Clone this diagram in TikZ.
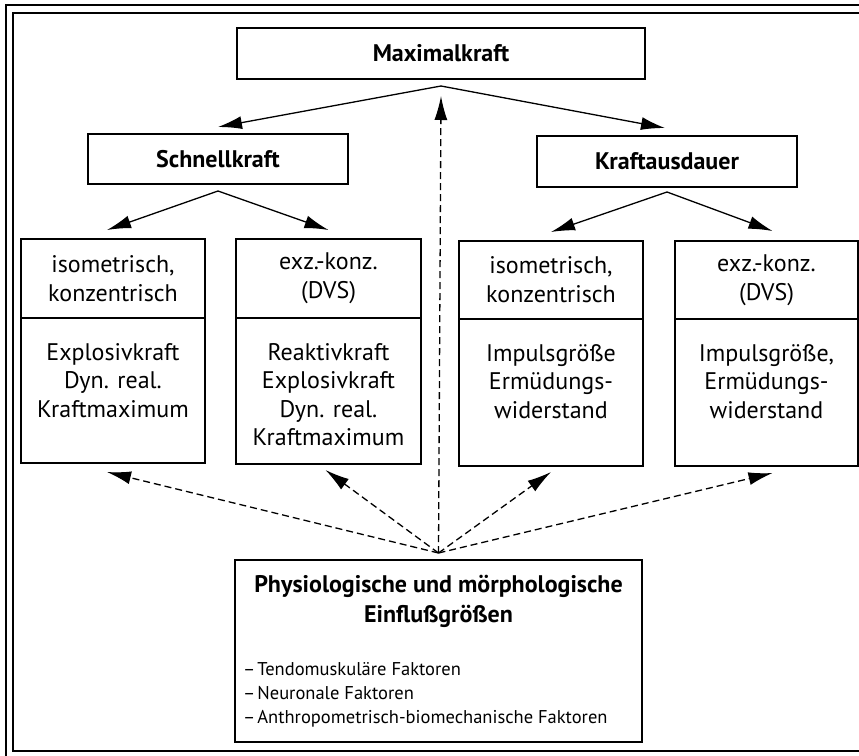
\documentclass[tikz,border=0pt]{standalone}
\usepackage{fontspec}
\setmainfont{PT Sans}
\usetikzlibrary{arrows.meta,positioning}

\tikzset{
  kbox/.style={rectangle, draw, line width=1.4pt, inner sep=0pt, outer sep=0pt},
  kopf/.style={font=\fontsize{24}{29}\selectfont, align=center},
  inhalt/.style={font=\fontsize{24}{28.5}\selectfont, align=center, inner sep=0pt},
  titel/.style={font=\fontsize{24}{30}\selectfont\bfseries},
  pfeil/.style={-{Latex[length=24pt,width=13pt]}, line width=1.3pt},
  strichpfeil/.style={pfeil, dash pattern=on 7pt off 4pt}
}

\begin{document}
\begin{tikzpicture}[x=1pt,y=-1pt]
      \clip (0,0) rectangle (859,755);
      % Rahmen
      \draw[line width=2.8pt] (6,5) rectangle (900,800);
      \draw[line width=1.2pt] (13,13) rectangle (880,751);

      \node at (441,53.5) [kbox, titel, minimum width=408, minimum height=51] (max) {Maximalkraft};
      \node at (218,159) [kbox, titel, minimum width=260, minimum height=50] (schnell) {Schnellkraft};
      \node at (667,161.5) [kbox, titel, minimum width=260, minimum height=51] (ausdauer) {Kraftausdauer};

      % Schnellkraft
      \node at (113,278.5) [kbox, kopf, minimum width=184, minimum height=79] (iso1) {isometrisch,\\konzentrisch};
      \node [kbox, below=0pt of iso1, minimum width=184, minimum height=145] (iso1b) {};
      \node [inhalt, below=25pt of iso1b.north] {Explosivkraft\\Dyn. real.\\Kraftmaximum};

      \node at (328.5,278.5) [kbox, kopf, minimum width=185, minimum height=79] (exz1) {exz.-konz.\\(DVS)};
      \node [kbox, below=0pt of exz1, minimum width=185, minimum height=146] (exz1b) {};
      \node [inhalt, below=25pt of exz1b.north] {Reaktivkraft\\Explosivkraft\\Dyn. real.\\Kraftmaximum};

      % Kraftausdauer
      \node at (551,280) [kbox, kopf, minimum width=184, minimum height=78] (iso2) {isometrisch,\\konzentrisch};
      \node [kbox, below=0pt of iso2, minimum width=184, minimum height=147] (iso2b) {};
      \node [inhalt, below=25pt of iso2b.north] {Impulsgröße\\Ermüdungs-\\widerstand};

      \node at (766.5,280) [kbox, kopf, minimum width=183, minimum height=78] (exz2) {exz.-konz.\\(DVS)};
      \node [kbox, below=0pt of exz2, minimum width=183, minimum height=147] (exz2b) {};
      \node [inhalt, below=25pt of exz2b.north] {Impulsgröße,\\Ermüdungs-\\widerstand};

      % Einflussgroessen
      \node at (438.5,651) [kbox, minimum width=407, minimum height=182] (phys) {};
      \node [titel, align=center, inner sep=0pt, below=15pt of phys.north] (physkopf)
            {Physiologische und mörphologische\\Einflußgrößen};
      \node [anchor=north west, align=left, inner sep=0pt, font=\fontsize{18.5}{24}\selectfont]
            at ([xshift=8pt,yshift=-102pt]phys.north west) (faktoren)
            {–\hspace{2pt}Tendomuskuläre Faktoren\\–\hspace{2pt}Neuronale Faktoren\\–\hspace{2pt}Anthropometrisch-biomechanische Faktoren};

      \coordinate (max-aus) at ([yshift=-7pt]max.south);
      \coordinate (schnell-aus) at ([yshift=-7pt]schnell.south);
      \coordinate (ausdauer-aus) at ([yshift=-5pt]ausdauer.south);
      \coordinate (hub) at ([yshift=7pt]phys.north);

      \path[pfeil]
      (max-aus) edge ([yshift=7pt]schnell.north)
                edge ([yshift=8pt,xshift=-2pt]ausdauer.north)
      (schnell-aus) edge ([yshift=9pt,xshift=-6pt]iso1.north)
                edge ([yshift=9pt]exz1.north)
      (ausdauer-aus) edge ([yshift=9pt]iso2.north)
                edge ([yshift=10pt,xshift=6pt]exz2.north);

      \path[strichpfeil]
      (hub) edge ([yshift=-17pt]max.south)
            edge ([yshift=-9pt,xshift=-6pt]iso1b.south)
            edge ([yshift=-6pt,xshift=-3pt]exz1b.south)
            edge ([yshift=-6pt]iso2b.south)
            edge ([yshift=-7pt,xshift=6pt]exz2b.south);
\end{tikzpicture}
\end{document}
